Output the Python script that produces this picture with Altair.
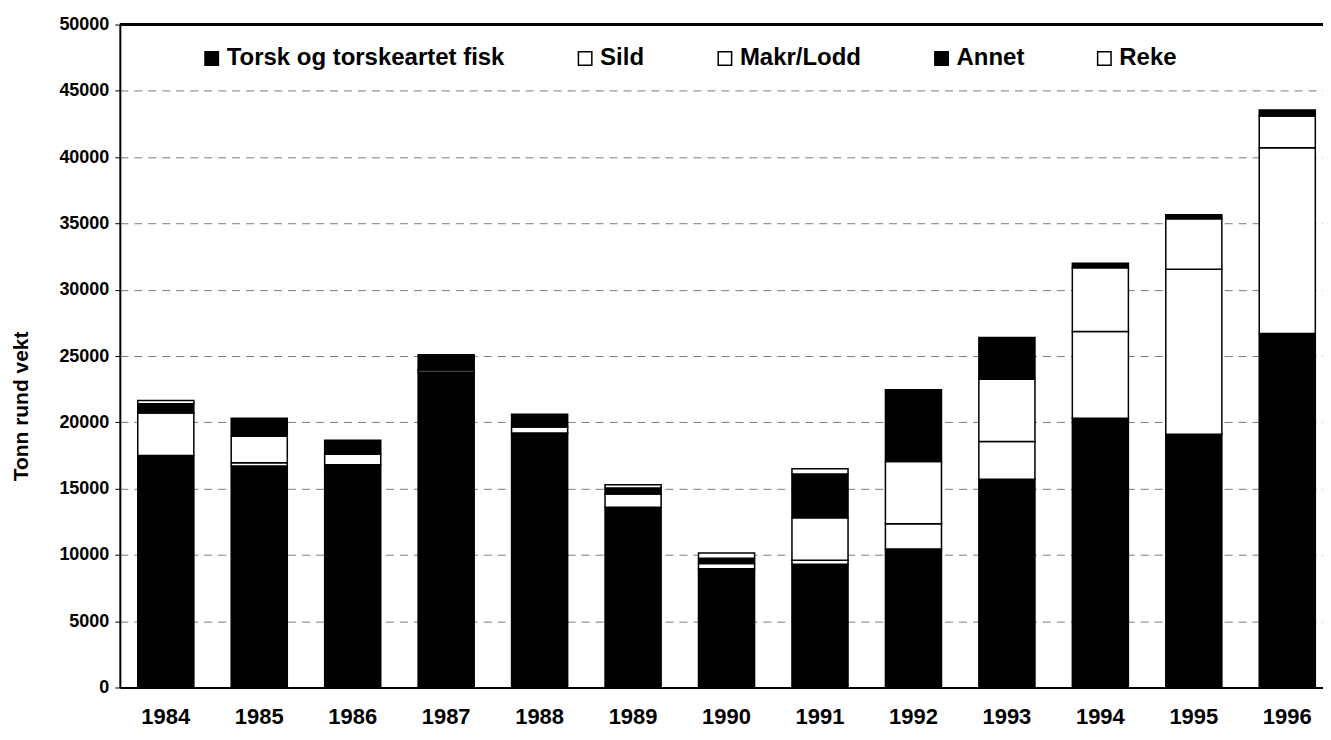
import altair as alt
import pandas as pd

years = ["1984", "1985", "1986", "1987", "1988", "1989", "1990",
         "1991", "1992", "1993", "1994", "1995", "1996"]
series = ["Torsk og torskeartet fisk", "Sild", "Makr/Lodd", "Annet", "Reke"]
torsk = [17500, 16700, 16800, 23800, 19200, 13600, 8950, 9300, 10450, 15700, 20300, 19100, 26700]
sild = [3200, 250, 800, 150, 450, 1000, 400, 300, 1900, 2850, 6550, 12450, 14000]
makr = [0, 2000, 0, 0, 0, 0, 0, 3200, 4700, 4700, 4800, 3800, 2400]
annet = [700, 1350, 1050, 1150, 950, 450, 400, 3300, 5400, 3150, 350, 300, 450]
reke = [250, 0, 0, 0, 0, 250, 400, 400, 0, 0, 0, 0, 0]
fills = ["black", "white", "white", "black", "white"]
y_ticks = list(range(0, 50001, 5000))

rows = []
for si, (name, vals) in enumerate(zip(series, [torsk, sild, makr, annet, reke])):
    for yr, v in zip(years, vals):
        if v > 0:
            rows.append({"year": yr, "series": name, "value": v, "order": si})
df = pd.DataFrame(rows)

FONT = "Liberation Sans"

bars = alt.Chart(df).mark_bar(stroke="black", strokeWidth=1.5).encode(
    x=alt.X("year:N", sort=years, title=None,
            scale=alt.Scale(paddingInner=0.4, paddingOuter=0.137, align=0.7),
            axis=alt.Axis(labelAngle=0, labelFontSize=22, labelFontWeight="bold",
                          labelFont=FONT, labelColor="black", labelPadding=19,
                          ticks=False, domainColor="black", domainWidth=2)),
    y=alt.Y("value:Q", stack="zero", title="Tonn rund vekt",
            scale=alt.Scale(domain=[0, 50000], nice=False),
            axis=alt.Axis(values=y_ticks, format="d", labelFontSize=18,
                          labelFontWeight="bold", labelFont=FONT, labelColor="black",
                          tickSize=5, tickColor="black", labelPadding=6,
                          domainColor="black", domainWidth=2,
                          grid=True, gridColor="#444", gridDash=[8, 6], gridWidth=1,
                          gridOpacity=0.7,
                          titleFontSize=21, titleFontWeight="bold", titleFont=FONT,
                          titleColor="black", titleX=-98, titleY=382,
                          titleAngle=270, titleAlign="center", titleBaseline="middle")),
    fill=alt.Fill("series:N", sort=series,
                  scale=alt.Scale(domain=series, range=fills),
                  legend=alt.Legend(title=None, orient="none", legendX=80, legendY=22,
                                    direction="horizontal", columns=5,
                                    symbolType="square", symbolSize=180,
                                    symbolStrokeColor="black", symbolStrokeWidth=1.5,
                                    labelFontSize=24, labelFontWeight="bold",
                                    labelFont=FONT, labelColor="black",
                                    labelOffset=3, columnPadding=68,
                                    labelLimit=400)),
    order=alt.Order("order:Q", sort="ascending"),
)

top_rule = alt.Chart(pd.DataFrame({"v": [50000]})).mark_rule(
    color="black", strokeWidth=3).encode(y="v:Q")

chart = alt.layer(bars, top_rule).properties(
    width=1205, height=664,
    autosize=alt.AutoSizeParams(type="none"),
    padding={"left": 112, "top": 16, "right": 0, "bottom": 40},
    background="white",
).configure_view(stroke=None)

chart.save("out.html", embed_options={"renderer": "svg", "actions": False})
